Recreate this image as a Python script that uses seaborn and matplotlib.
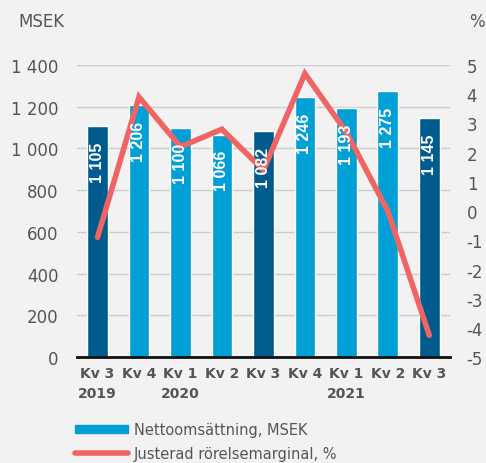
import numpy as np
import pandas as pd
import matplotlib.pyplot as plt
import matplotlib.patches as mpatches
import matplotlib.lines as mlines
import seaborn as sns

sns.set_style("white")
plt.rcParams['font.family'] = ['DejaVu Sans']

# Data
kvartal = ['Kv 3', 'Kv 4', 'Kv 1', 'Kv 2', 'Kv 3', 'Kv 4', 'Kv 1', 'Kv 2', 'Kv 3']
ar = ['2019', '', '2020', '', '', '', '2021', '', '']
nettoomsattning = [1105, 1206, 1100, 1066, 1082, 1246, 1193, 1275, 1145]
rorelsemarginal = [-0.9, 3.9, 2.2, 2.8, 1.4, 4.7, 2.7, 0.0, -4.25]
bar_labels = ['1 105', '1 206', '1 100', '1 066', '1 082', '1 246', '1 193', '1 275', '1 145']

bg = '#f2f2f2'
dark = '#005b8f'
light = '#00a0d6'
red = '#f06464'
grey = '#555555'

df = pd.DataFrame({
    'pos': range(len(kvartal)),
    'netto': nettoomsattning,
    'typ': ['q3' if k == 'Kv 3' else 'ovr' for k in kvartal],
})

fig = plt.figure(figsize=(4.86, 4.64), dpi=100, facecolor=bg)
ax = fig.add_axes([0.158, 0.228, 0.768, 0.63])
ax.set_facecolor(bg)

sns.barplot(data=df, x='pos', y='netto', hue='typ', palette={'q3': dark, 'ovr': light},
            dodge=False, width=0.5, ax=ax, legend=False, saturation=1)

ax.set_ylim(0, 1400)
ax.set_yticks(range(0, 1401, 200))
ax.set_yticklabels([f"{v:,}".replace(',', ' ') for v in range(0, 1401, 200)],
                   color=grey, fontsize=12)
ax.yaxis.grid(True, color='#cccccc', linewidth=1)
ax.set_axisbelow(True)
ax.set_xlim(-0.5, len(kvartal) - 0.5)
for s in ['top', 'right', 'left']:
    ax.spines[s].set_visible(False)
ax.spines['bottom'].set_color('#111111')
ax.spines['bottom'].set_linewidth(2)
ax.tick_params(axis='y', length=0, pad=13)
ax.tick_params(axis='x', length=0, pad=6)
ax.set_xlabel('')
ax.set_ylabel('')

xt = [f"{k}\n{a}" if a else k for k, a in zip(kvartal, ar)]
ax.set_xticks(range(len(kvartal)))
ax.set_xticklabels(xt, fontweight='bold', color=grey, fontsize=10, linespacing=1.55)
for lbl in ax.get_xticklabels():
    lbl.set_verticalalignment('top')

# Right axis
ax2 = ax.twinx()
sns.lineplot(x=list(range(len(kvartal))), y=rorelsemarginal, ax=ax2, color=red,
             linewidth=4, solid_capstyle='round', solid_joinstyle='miter')
ax2.set_ylim(-5, 5)
ax2.set_yticks(range(-5, 6))
ax2.set_yticklabels([str(v) for v in range(-5, 6)], color=grey, fontsize=12)
ax2.tick_params(axis='y', length=0, pad=12)
for s in ax2.spines.values():
    s.set_visible(False)
ax2.grid(False)

# Bar labels (above the line)
for i, v in enumerate(nettoomsattning):
    ax2.annotate(bar_labels[i], (i, v), xycoords=ax.transData, xytext=(0, -11),
                 textcoords='offset points', rotation=90, ha='center', va='top',
                 color='white', fontweight='bold', fontsize=11.5, zorder=5,
                 family=['Liberation Sans', 'DejaVu Sans'])

fig.text(18 / 486, 1 - 22 / 464, 'MSEK', color=grey, fontsize=12, va='center')
fig.text(469 / 486, 1 - 22 / 464, '%', color=grey, fontsize=12, va='center')

handles = [mpatches.Patch(color=light, label='Nettoomsättning, MSEK'),
           mlines.Line2D([], [], color=red, linewidth=4, solid_capstyle='round',
                         label='Justerad rörelsemarginal, %')]
leg = fig.legend(handles=handles, loc='upper left', bbox_to_anchor=(0.155, 0.088),
                 frameon=False, fontsize=10.5, handlelength=3.6, handleheight=0.5,
                 labelspacing=0.6, handletextpad=0.4, borderaxespad=0, borderpad=0)
for t in leg.get_texts():
    t.set_color(grey)

fig.savefig('out.png', dpi=100, facecolor=bg)
